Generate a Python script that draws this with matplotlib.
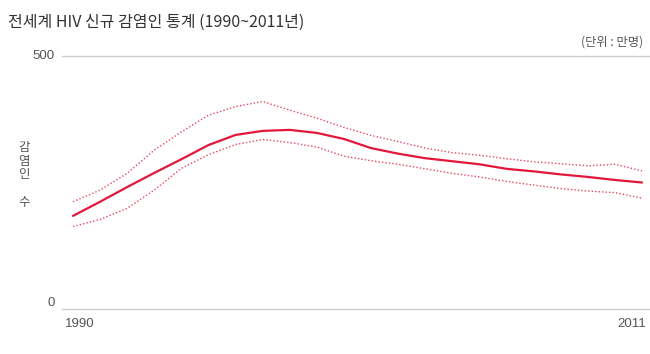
import matplotlib
matplotlib.use("Agg")
import matplotlib.pyplot as plt

plt.rcParams['font.family'] = ['Noto Sans CJK KR', 'DejaVu Sans']

# data (만명)
years = list(range(1990, 2012))
new_infections = [184, 212, 241, 269, 296, 324, 344, 352, 354, 348, 336,
                  318, 307, 298, 292, 286, 277, 272, 266, 261, 255, 250]
upper_bound = [212, 235, 268, 314, 350, 383, 400, 410, 393, 377, 359,
               343, 331, 318, 309, 304, 297, 291, 287, 283, 286, 273]
lower_bound = [163, 177, 199, 235, 278, 305, 325, 335, 329, 320, 302,
               293, 286, 277, 268, 261, 252, 245, 238, 233, 230, 219]

red = '#e3173a'
grid_col = '#cccccc'
text_col = '#555555'
num_font = ['Liberation Sans', 'Noto Sans CJK KR']

fig = plt.figure(figsize=(6.5, 3.54), dpi=100)
ax = fig.add_axes([62/650, 45/354, 588/650, 253/354])

ax.plot(years, new_infections, color=red, lw=1.6, solid_capstyle='round')
ax.plot(years, upper_bound, color=red, lw=1.0, ls=(0, (1, 1.5)), alpha=0.8)
ax.plot(years, lower_bound, color=red, lw=1.0, ls=(0, (1, 1.5)), alpha=0.8)

ax.set_xlim(1990 - 11/27.1, 2011 + 8/27.1)
ax.set_ylim(0, 500)

for v in [0, 500]:
    ax.axhline(v, color=grid_col, lw=1, zorder=0, clip_on=False)
for s in ax.spines.values():
    s.set_visible(False)
ax.set_xticks([])
ax.set_yticks([])

# tick labels
ax.text(-7/588, 500, '500', transform=ax.get_yaxis_transform(), ha='right', va='center',
        fontsize=9.5, color=text_col, family=num_font)
ax.text(-7/588, 0, '0', transform=ax.get_yaxis_transform(), ha='right', va='bottom',
        fontsize=9.5, color=text_col, family=num_font)
ax.text(1990 - 8/27.1, -30, '1990', ha='left', va='center', fontsize=9.5, color=text_col,
        family=num_font)
ax.text(2011 + 4/27.1, -30, '2011', ha='right', va='center', fontsize=9.5, color=text_col,
        family=num_font)

fig.text(8/650, 1 - 22/354, '전세계 HIV 신규 감염인 통계 (1990~2011년)', ha='left', va='center',
         fontsize=11.5, color='#333333')
fig.text(643/650, 1 - 42/354, '(단위 : 만명)', ha='right', va='center',
         fontsize=8.8, color=text_col)
fig.text(24/650, 1 - 175/354, '감\n염\n인\n\n수', ha='center', va='center',
         fontsize=9, color=text_col, linespacing=1.08)

fig.savefig('out.png', dpi=100, facecolor='white')
